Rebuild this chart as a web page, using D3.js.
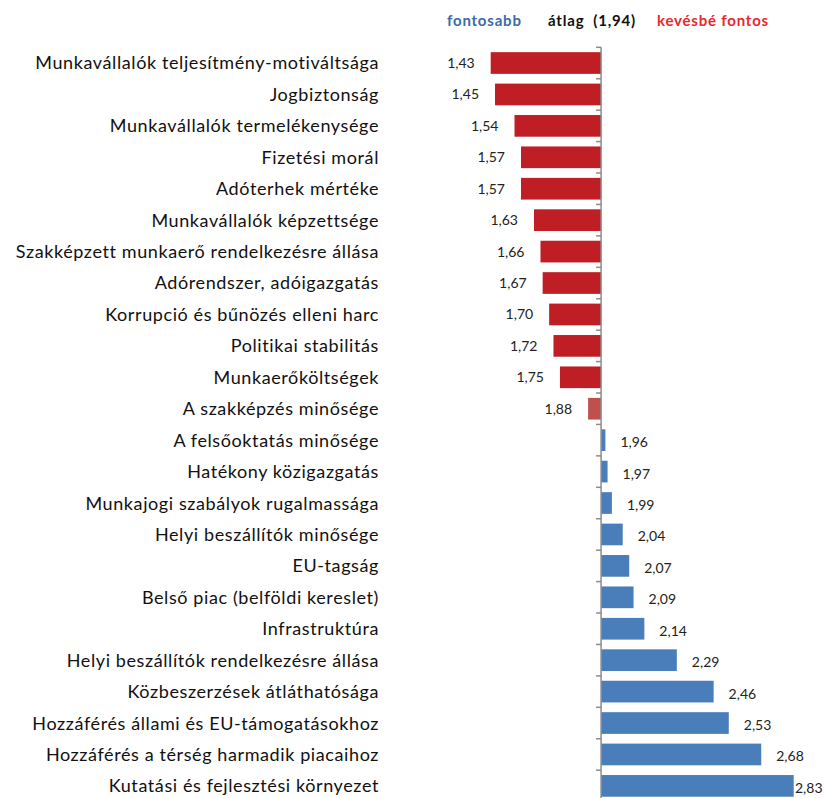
<!DOCTYPE html>
<html><head><meta charset="utf-8">
<script src="https://cdn.jsdelivr.net/npm/d3@7"></script>
<style>body{margin:0;background:#fff}svg{display:block}</style>
</head><body>
<svg id="c" width="824" height="798"></svg>
<script>
const categories = [
  "Munkavállalók teljesítmény-motiváltsága",
  "Jogbiztonság",
  "Munkavállalók termelékenysége",
  "Fizetési morál",
  "Adóterhek mértéke",
  "Munkavállalók képzettsége",
  "Szakképzett munkaerő rendelkezésre állása",
  "Adórendszer, adóigazgatás",
  "Korrupció és bűnözés elleni harc",
  "Politikai stabilitás",
  "Munkaerőköltségek",
  "A szakképzés minősége",
  "A felsőoktatás minősége",
  "Hatékony közigazgatás",
  "Munkajogi szabályok rugalmassága",
  "Helyi beszállítók minősége",
  "EU-tagság",
  "Belső piac (belföldi kereslet)",
  "Infrastruktúra",
  "Helyi beszállítók rendelkezésre állása",
  "Közbeszerzések átláthatósága",
  "Hozzáférés állami és EU-támogatásokhoz",
  "Hozzáférés a térség harmadik piacaihoz",
  "Kutatási és fejlesztési környezet"
];
const values = [1.43,1.45,1.54,1.57,1.57,1.63,1.66,1.67,1.70,1.72,1.75,1.88,1.96,1.97,1.99,2.04,2.07,2.09,2.14,2.29,2.46,2.53,2.68,2.83];
const average = 1.94;
const legendLabels = ["fontosabb", "átlag  (1,94)", "kevésbé fontos"];

const svg = d3.select("#c");
const fmt = v => d3.format(".2f")(v).replace(".", ",");

const x = d3.scaleLinear().domain([1.43, 2.83]).range([490.7, 793.7]);
const y = d3.scaleBand().domain(categories).range([47.3, 801.6]).paddingInner(0.31).paddingOuter(0.155);
const x0 = x(average);

const colorOf = (v) => v >= average ? "#4a7ebb" : (v > 1.8 ? "#c0504d" : "#be1e24");

const data = categories.map((c, i) => ({c, v: values[i]}));

svg.append("g").selectAll("rect").data(data).join("rect")
  .attr("x", d => Math.min(x(d.v), x0))
  .attr("width", d => Math.abs(x(d.v) - x0))
  .attr("y", d => y(d.c))
  .attr("height", y.bandwidth())
  .attr("fill", d => colorOf(d.v));

// axis with ticks at category boundaries
const step = y.step();
const bounds = d3.range(categories.length + 1).map(i => 47.3 + i * step);
const ax = svg.append("g");
ax.append("line").attr("x1", x0).attr("x2", x0).attr("y1", bounds[0]).attr("y2", 798)
  .attr("stroke", "#8c8c8c").attr("stroke-width", 1.5);
ax.selectAll("line.t").data(bounds.slice(0, -1)).join("line").attr("class", "t")
  .attr("x1", x0 - 5).attr("x2", x0).attr("y1", d => d).attr("y2", d => d)
  .attr("stroke", "#8c8c8c").attr("stroke-width", 1.5);

// category labels
svg.append("g").selectAll("text").data(data).join("text")
  .attr("x", 379).attr("y", d => y(d.c) + y.bandwidth() / 2)
  .attr("dy", "0.36em").attr("text-anchor", "end")
  .attr("font-family", "Lato, 'Open Sans', sans-serif").attr("font-size", 18)
  .attr("letter-spacing", 0.6)
  .attr("fill", "#111").text(d => d.c);

// value labels
svg.append("g").selectAll("text").data(data).join("text")
  .attr("x", d => d.v < average ? x(d.v) - 16 : Math.min(x(d.v) + 15, 795))
  .attr("y", d => y(d.c) + y.bandwidth() / 2 + (d.v < average ? 0 : 2))
  .attr("dy", "0.36em").attr("text-anchor", d => d.v < average ? "end" : "start")
  .attr("font-family", "Lato, 'Open Sans', sans-serif").attr("font-size", 14)
  .attr("fill", "#222").text(d => fmt(d.v));

// legend / header
const lg = svg.append("g").attr("font-family", "Lato, 'Open Sans', sans-serif")
  .attr("font-size", 15).attr("font-weight", "bold").attr("letter-spacing", 0.8);
lg.append("text").attr("x", 447).attr("y", 25.5).attr("fill", "#3d6aa8").text(legendLabels[0]);
lg.append("text").attr("x", 548).attr("y", 25.5).attr("fill", "#111").style("white-space", "pre").text(legendLabels[1]);
lg.append("text").attr("x", 657).attr("y", 25.5).attr("fill", "#e8272b").text(legendLabels[2]);
</script>
</body></html>
